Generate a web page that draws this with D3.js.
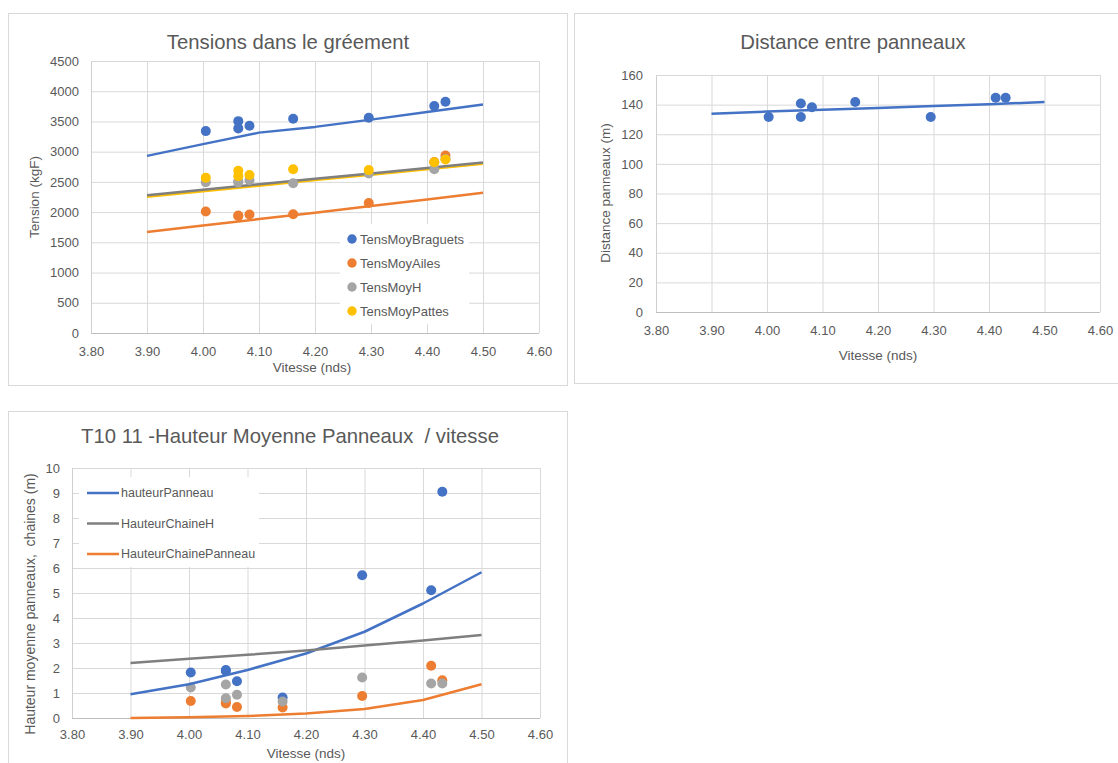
<!DOCTYPE html>
<html>
<head>
<meta charset="utf-8">
<script src="https://cdn.jsdelivr.net/npm/d3@7"></script>
<style>
  body { margin: 0; background: #fff; }
  svg text { fill: #595959; font-family: "Liberation Sans", Arial, sans-serif; }
</style>
</head>
<body>
<svg id="page" width="1118" height="763"></svg>
<script>
// ---------- data ----------
const xTicks = [3.80, 3.90, 4.00, 4.10, 4.20, 4.30, 4.40, 4.50, 4.60]
const fitVitesse = [3.90, 4.00, 4.10, 4.20, 4.30, 4.40, 4.50]

// chart 1 : Tensions dans le gréement
const tensionTicks = [0, 500, 1000, 1500, 2000, 2500, 3000, 3500, 4000, 4500]
const tensionVitesse = [4.005, 4.063, 4.063, 4.083, 4.161, 4.296, 4.413, 4.433]
const tensMoyBraguets = [3340, 3505, 3385, 3430, 3545, 3560, 3755, 3825]
const tensMoyAiles = [2010, 1945, 1935, 1960, 1965, 2150, 2830, 2935]
const tensMoyH = [2495, 2510, 2490, 2527, 2478, 2640, 2710, 2880]
const tensMoyPattes = [2570, 2685, 2595, 2615, 2710, 2695, 2825, 2870]
const fitBraguets = [2930, 3125, 3315, 3410, 3530, 3655, 3780]
const fitAiles = [1670, 1780, 1885, 1990, 2100, 2210, 2320]
const fitH = [2280, 2370, 2460, 2550, 2640, 2730, 2820]
const fitPattes = [2255, 2345, 2435, 2530, 2620, 2710, 2800]
const tensionNames = ["TensMoyBraguets", "TensMoyAiles", "TensMoyH", "TensMoyPattes"]

// chart 2 : Distance entre panneaux
const distTicks = [0, 20, 40, 60, 80, 100, 120, 140, 160]
const distVitesse = [4.003, 4.061, 4.061, 4.081, 4.159, 4.295, 4.412, 4.430]
const distPanneaux = [131.7, 140.7, 131.7, 138.2, 141.8, 131.7, 144.7, 144.7]
const fitDist = [133.9, 135.3, 136.5, 137.8, 139.0, 140.2, 141.8]

// chart 3 : Hauteur moyenne panneaux / vitesse
const hauteurTicks = [0, 1, 2, 3, 4, 5, 6, 7, 8, 9, 10]
const hauteurVitesse = [4.003, 4.063, 4.063, 4.082, 4.160, 4.296, 4.414, 4.433]
const hauteurPanneau = [1.82, 1.92, 1.88, 1.47, 0.82, 5.71, 5.11, 9.05]
const hauteurChainePanneau = [0.68, 0.58, 0.65, 0.44, 0.42, 0.88, 2.09, 1.51]
const hauteurChaineH = [1.22, 1.34, 0.79, 0.93, 0.66, 1.62, 1.38, 1.38]
const fitHauteurPanneau = [0.95, 1.35, 1.92, 2.58, 3.45, 4.58, 5.83]
const fitChaineH = [2.20, 2.37, 2.53, 2.70, 2.90, 3.10, 3.32]
const fitChainePanneau = [0.00, 0.03, 0.08, 0.18, 0.36, 0.72, 1.35]
const hauteurNames = ["hauteurPanneau", "HauteurChaineH", "HauteurChainePanneau"]

const BLUE = "#4472C4", ORANGE = "#ED7D31", GREY = "#A5A5A5", YELLOW = "#FFC000", DARKGREY = "#7F7F7F"

let svg = d3.select("#page")

// draws frame, grid, axes and titles; returns the scales
function drawPanel(p){
    let g = svg.append("g")
    g.append("rect")
        .attr("x", p.frame[0] + 0.5).attr("y", p.frame[1] + 0.5)
        .attr("width", p.frame[2]).attr("height", p.frame[3])
        .attr("fill", "#fff").attr("stroke", "#d9d9d9")

    let x = d3.scaleLinear().domain([3.8, 4.6]).range([p.left, p.right])
    let y = d3.scaleLinear().domain([0, p.yTicks[p.yTicks.length - 1]]).range([p.bottom, p.top])

    // y gridlines + labels
    let ya = g.append("g").attr("transform", `translate(${p.left},0)`)
        .call(d3.axisLeft(y).tickValues(p.yTicks).tickFormat(d3.format("d"))
            .tickSize(-(p.right - p.left)).tickPadding(p.yPad))
    ya.select(".domain").remove()
    ya.selectAll("line").attr("stroke", "#d9d9d9")
    ya.selectAll("text").style("font-size", "13px").attr("font-family", null)

    // x gridlines + labels
    let xa = g.append("g").attr("transform", `translate(0,${p.bottom})`)
        .call(d3.axisBottom(x).tickValues(xTicks).tickFormat(d3.format(".2f"))
            .tickSize(-(p.bottom - p.top)).tickPadding(p.xPad))
    xa.select(".domain").remove()
    xa.selectAll("line").attr("stroke", "#d9d9d9")
    xa.selectAll("text").style("font-size", "13px").attr("font-family", null)

    // axis lines
    g.append("line").attr("x1", p.left).attr("x2", p.right).attr("y1", p.bottom + 0.5).attr("y2", p.bottom + 0.5)
        .attr("stroke", "#bfbfbf")
    g.append("line").attr("x1", p.left + 0.5).attr("x2", p.left + 0.5).attr("y1", p.top).attr("y2", p.bottom)
        .attr("stroke", "#cfcfcf")

    g.append("text").attr("x", p.titleX).attr("y", p.titleY).attr("text-anchor", "middle")
        .style("font-size", "20.3px").text(p.title)
    g.append("text").attr("x", p.xTitleX).attr("y", p.xTitleY).attr("text-anchor", "middle")
        .style("font-size", "13.5px").text("Vitesse (nds)")
    g.append("text").attr("transform", `translate(${p.yTitleX},${p.yTitleY}) rotate(-90)`).attr("text-anchor", "middle")
        .style("font-size", p.yTitleSize || "13.5px").text(p.yTitle)

    return {g: g, x: x, y: y}
}

function drawFit(c, xs, ys, color){
    let line = d3.line().x(d => c.x(d[0])).y(d => c.y(d[1]))
    c.g.append("path").datum(d3.zip(xs, ys)).attr("d", line)
        .attr("fill", "none").attr("stroke", color).attr("stroke-width", 2.5).attr("stroke-linejoin", "round")
}

function drawDots(c, xs, ys, color){
    c.g.append("g").selectAll("circle").data(d3.zip(xs, ys)).join("circle")
        .attr("cx", d => c.x(d[0])).attr("cy", d => c.y(d[1])).attr("r", 5)
        .attr("fill", color)
}

// ---------- chart 1 ----------
let c1 = drawPanel({
    frame: [8, 13, 559, 372], left: 91, right: 539, top: 61, bottom: 333,
    yTicks: tensionTicks, yPad: 12, xPad: 14,
    title: "Tensions dans le gréement", titleX: 288, titleY: 49,
    xTitleX: 312, xTitleY: 372, yTitle: "Tension (kgF)", yTitleX: 39, yTitleY: 197
})
drawFit(c1, fitVitesse, fitAiles, ORANGE)
drawFit(c1, fitVitesse, fitPattes, YELLOW)
drawFit(c1, fitVitesse, fitH, DARKGREY)
drawFit(c1, fitVitesse, fitBraguets, BLUE)
drawDots(c1, tensionVitesse, tensMoyBraguets, BLUE)
drawDots(c1, tensionVitesse, tensMoyAiles, ORANGE)
drawDots(c1, tensionVitesse, tensMoyH, GREY)
drawDots(c1, tensionVitesse, tensMoyPattes, YELLOW)

let leg1 = c1.g.append("g")
leg1.append("rect").attr("x", 340).attr("y", 224).attr("width", 129).attr("height", 100).attr("fill", "#fff")
let leg1Colors = [BLUE, ORANGE, GREY, YELLOW]
leg1.selectAll("circle").data(tensionNames).join("circle")
    .attr("cx", 352).attr("cy", (d, i) => 239 + i * 24).attr("r", 4.7)
    .attr("fill", (d, i) => leg1Colors[i])
leg1.selectAll("text").data(tensionNames).join("text")
    .attr("x", 360).attr("y", (d, i) => 239 + i * 24).attr("dy", "0.35em")
    .style("font-size", "13px").text(d => d)

// ---------- chart 2 ----------
let c2 = drawPanel({
    frame: [574, 13, 560, 370], left: 656, right: 1100, top: 75, bottom: 312,
    yTicks: distTicks, yPad: 13, xPad: 14,
    title: "Distance entre panneaux", titleX: 853, titleY: 49,
    xTitleX: 878, xTitleY: 360, yTitle: "Distance panneaux (m)", yTitleX: 610, yTitleY: 193
})
drawFit(c2, fitVitesse, fitDist, BLUE)
drawDots(c2, distVitesse, distPanneaux, BLUE)

// ---------- chart 3 ----------
let c3 = drawPanel({
    frame: [8, 411, 559, 370], left: 72, right: 540, top: 468, bottom: 718,
    yTicks: hauteurTicks, yPad: 12, xPad: 12,
    title: "T10 11 -Hauteur Moyenne Panneaux  / vitesse", titleX: 290, titleY: 443,
    xTitleX: 306, xTitleY: 758, yTitle: "Hauteur moyenne panneaux,  chaines (m)",
    yTitleX: 35, yTitleY: 604, yTitleSize: "14px"
})
c3.g.selectAll("text").attr("xml:space", "preserve")
drawDots(c3, hauteurVitesse, hauteurPanneau, BLUE)
drawDots(c3, hauteurVitesse, hauteurChainePanneau, ORANGE)
drawDots(c3, hauteurVitesse, hauteurChaineH, GREY)
drawFit(c3, fitVitesse, fitHauteurPanneau, BLUE)
drawFit(c3, fitVitesse, fitChaineH, DARKGREY)
drawFit(c3, fitVitesse, fitChainePanneau, ORANGE)

let leg3 = c3.g.append("g")
leg3.append("rect").attr("x", 79).attr("y", 477).attr("width", 180).attr("height", 90).attr("fill", "#fff")
let leg3Colors = [BLUE, DARKGREY, ORANGE]
leg3.selectAll("line").data(hauteurNames).join("line")
    .attr("x1", 87).attr("x2", 119).attr("y1", (d, i) => 493 + i * 30.5).attr("y2", (d, i) => 493 + i * 30.5)
    .attr("stroke", (d, i) => leg3Colors[i]).attr("stroke-width", 2.5)
leg3.selectAll("text").data(hauteurNames).join("text")
    .attr("x", 121).attr("y", (d, i) => 493 + i * 30.5).attr("dy", "0.35em")
    .style("font-size", "12.5px").text(d => d)
</script>
</body>
</html>
